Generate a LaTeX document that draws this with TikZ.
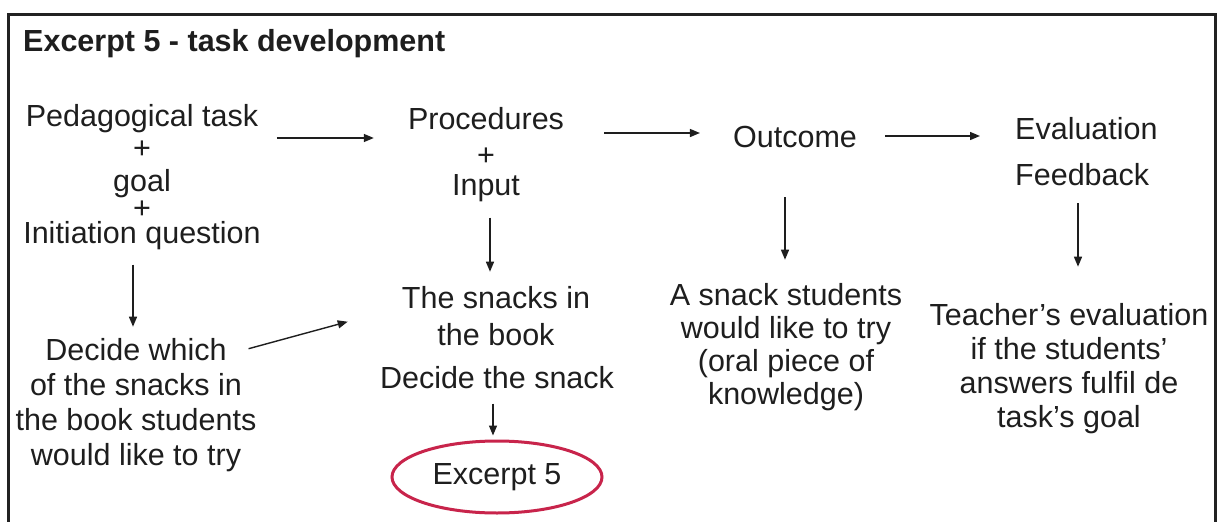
\documentclass[tikz,border=0pt]{standalone}
\usepackage{fontspec}
\setmainfont{Liberation Sans}
\usetikzlibrary{arrows.meta,shapes.geometric}
\definecolor{ink}{HTML}{1E1E1E}
\definecolor{framec}{HTML}{222222}
\definecolor{ovalred}{HTML}{C8244B}

\begin{document}
\begin{tikzpicture}[x=1pt,y=-1pt,
  % multi-line nodes sit on the baseline of their last line
  txt/.style={inner sep=0pt, text=ink, font=\fontsize{30.5}{34}\selectfont,
              align=center, anchor=base},
  arr/.style={draw=ink, line width=1.4pt, -{Triangle[length=10pt,width=8pt]}},
  oval/.style={ellipse, draw=ovalred, line width=3pt, minimum width=210pt,
               minimum height=72pt, inner sep=0pt, text=ink,
               font=\fontsize{30.5}{34}\selectfont}
]
\useasboundingbox (0,0) rectangle (1219,522);
\fill[white] (0,0) rectangle (1219,522);

% outer frame, open at the bottom
\begin{scope}
  \clip (0,0) rectangle (1219,522);
  \draw[framec, line width=3.3pt] (8.5,540) -- (8.5,14.3) -- (1215.3,14.3) -- (1215.3,540);
\end{scope}

% heading
\node[txt, anchor=base west, font=\bfseries\fontsize{30.5}{34}\selectfont] (title) at (23,51)
  {Excerpt 5 - task development};

% top row
\node[txt] (pt) at (142,243)
  {Pedagogical task\\[-2pt]+\\[-1pt]goal\\[-7pt]+\\[-9pt]Initiation question};
\node[txt] (proc) at (486,195) {Procedures\\[2pt]+\\[-4pt]Input};
\node[txt] (outc) at (795,147) {Outcome};
\node[txt, align=left, anchor=base west] (eval) at (1015,185) {Evaluation\\[12pt]Feedback};

% lower row
\node[txt, font=\fontsize{30.5}{35}\selectfont] (dec) at (136,465)
  {Decide which\\of the snacks in\\the book students\\would like to try};
\node[txt] (snk) at (496,345) {The snacks in\\[3pt]the book};
\node[txt] (dsn) at (497,388) {Decide the snack};
\node[oval] (ex5) at (497,477) {Excerpt 5};
\node[txt, font=\fontsize{30.5}{33}\selectfont] (ans) at (786,404)
  {A snack students\\would like to try\\(oral piece of\\knowledge)};
\node[txt] (tev) at (1069,427)
  {Teacher’s evaluation\\if the students’\\answers fulfil de\\task’s goal};

% horizontal connectors
\draw[arr, shorten <=16pt, shorten >=34pt] (pt.east |- 0,138) -- (proc.west |- 0,138);
\draw[arr, shorten <=40pt, shorten >=33pt] (proc.east |- 0,133) -- (outc.west |- 0,133);
\draw[arr, shorten <=28pt, shorten >=35pt] (outc.east |- 0,136) -- (eval.west |- 0,136);

% vertical connectors
\draw[arr, shorten <=15pt, shorten >=11pt] (pt.south -| 133,0) -- (dec.north -| 133,0);
\draw[arr, shorten <=16pt, shorten >=14pt] (proc.south -| 490,0) -- (snk.north -| 490,0);
\draw[arr, shorten <=50pt, shorten >=23pt] (outc.south -| 785,0) -- (ans.north -| 785,0);
\draw[arr, shorten <=18pt, shorten >=36pt] (eval.south -| 1078,0) -- (tev.north -| 1078,0);
\draw[arr, shorten <=15pt, shorten >=4pt] (dsn.south -| 493,0) -- (ex5.north -| 493,0);

% diagonal connector
\draw[arr] ([shift={(-8,11)}]dec.north east) -- ([shift={(-54,36)}]snk.north west);
\end{tikzpicture}
\end{document}
